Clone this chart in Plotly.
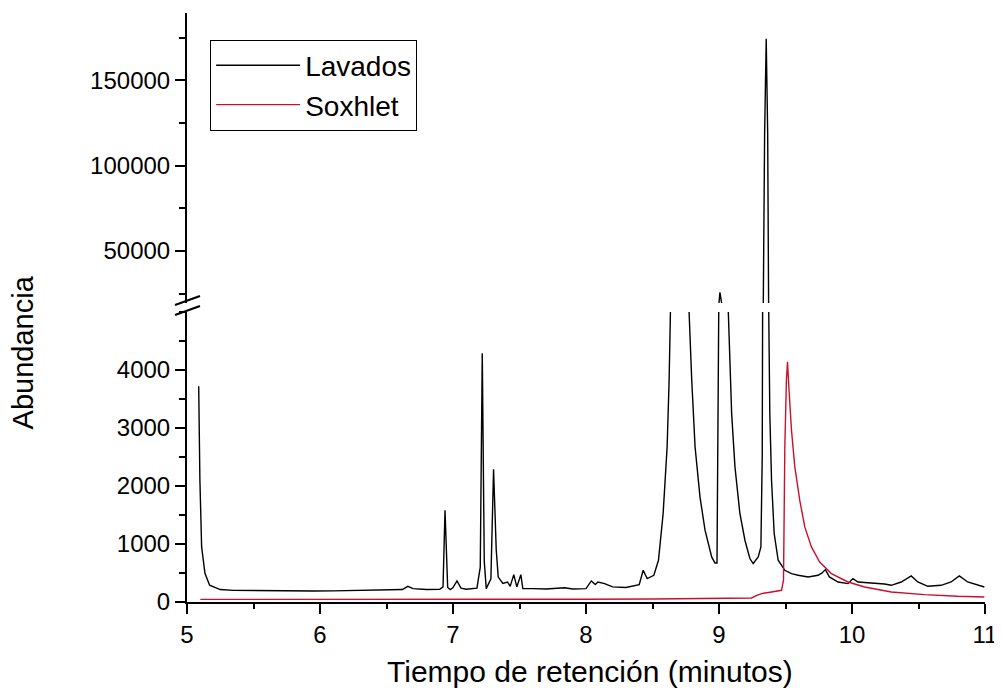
import plotly.graph_objects as go

# ---- data ----
lav_t = [5.088, 5.092, 5.097, 5.11, 5.135, 5.17, 5.25, 5.35, 5.5, 5.65, 5.8, 5.95, 6.1, 6.25,
         6.4, 6.55, 6.62, 6.66, 6.7, 6.8, 6.9, 6.925, 6.94, 6.96, 6.98, 7.0, 7.03, 7.06, 7.1,
         7.18, 7.205, 7.22, 7.235, 7.25, 7.285, 7.305, 7.325, 7.34, 7.375, 7.41, 7.43, 7.457,
         7.48, 7.51, 7.525, 7.6, 7.7, 7.84, 7.9, 8.0, 8.04, 8.07, 8.09, 8.14, 8.2, 8.3, 8.345,
         8.4, 8.43, 8.46, 8.51, 8.545, 8.58, 8.61, 8.625, 8.64, 8.67, 8.71, 8.75, 8.775, 8.795,
         8.82, 8.857, 8.895, 8.945, 8.97, 8.985, 8.998, 9.0, 9.007, 9.02, 9.07, 9.08, 9.095,
         9.12, 9.157, 9.195, 9.232, 9.257, 9.295, 9.315, 9.325, 9.328, 9.333, 9.343, 9.355,
         9.366, 9.371, 9.374, 9.382, 9.395, 9.415, 9.445, 9.495, 9.545, 9.595, 9.67, 9.745,
         9.775, 9.8, 9.83, 9.895, 9.97, 10.007, 10.045, 10.145, 10.245, 10.295, 10.37, 10.445,
         10.495, 10.57, 10.67, 10.745, 10.807, 10.87, 10.945, 10.995]
lav_y = [3720, 2900, 2100, 950, 495, 290, 215, 200, 195, 190, 185, 190, 192, 195,
         200, 205, 215, 270, 230, 215, 220, 260, 1583, 250, 215, 250, 363, 240, 220,
         240, 600, 4287, 700, 230, 400, 2290, 900, 430, 320, 345, 270, 472,
         260, 472, 230, 230, 225, 245, 225, 230, 363, 300, 345, 317, 260, 250, 271,
         300, 547, 403, 461, 720, 1526, 2676, 3827, 5006, 9000, 14000, 9000, 5000, 3827,
         2676, 1813, 1238, 777, 673, 673, 5000, 19400, 25800, 19400, 5000, 4402, 3252,
         2330, 1526, 1065, 749, 663, 777, 949, 2500, 5000, 19400, 118900, 174400,
         118900, 19400, 5000, 3252, 2100, 1180, 720, 547, 490, 461, 432, 461,
         501, 559, 432, 345, 317, 403, 345, 334, 311, 288, 345, 449,
         345, 271, 288, 345, 449, 345, 288, 259]

sox_t = [5.1, 5.5, 6.0, 6.5, 7.0, 7.5, 8.0, 8.5, 8.845, 9.1, 9.245, 9.28, 9.32, 9.395, 9.47,
         9.485, 9.495, 9.507, 9.515, 9.525, 9.545, 9.57, 9.607, 9.645, 9.695, 9.757, 9.845,
         9.97, 10.095, 10.295, 10.545, 10.795, 10.995]
sox_y = [45, 44, 44, 45, 46, 47, 48, 52, 58, 64, 69, 110, 145, 173, 202,
         375, 2676, 3827, 4143, 3711, 2964, 2330, 1756, 1295, 949, 690, 490,
         345, 259, 173, 127, 98, 86]

series_names = ["Lavados", "Soxhlet"]
series_colors = ["#000000", "#c8102e"]
x_ticks = [5, 6, 7, 8, 9, 10, 11]
low_ticks = [0, 1000, 2000, 3000, 4000]
high_ticks = [50000, 100000, 150000]

FONT = "Liberation Sans, Arial, sans-serif"

fig = go.Figure()
for name, color, t, y in [(series_names[0], series_colors[0], lav_t, lav_y),
                          (series_names[1], series_colors[1], sox_t, sox_y)]:
    # lower (unbroken) segment
    fig.add_trace(go.Scatter(x=t, y=y, mode="lines", name=name,
                             line=dict(color=color, width=1.4),
                             xaxis="x", yaxis="y", showlegend=True))
    # upper segment of the broken axis
    fig.add_trace(go.Scatter(x=t, y=y, mode="lines", name=name,
                             line=dict(color=color, width=1.4),
                             xaxis="x2", yaxis="y2", showlegend=False))

axis_common = dict(showline=True, linecolor="black", linewidth=2, ticks="outside",
                   ticklen=10, tickwidth=2, tickcolor="black", showgrid=False,
                   zeroline=False, tickformat="d",
                   tickfont=dict(family=FONT, size=24, color="black"))

fig.update_layout(
    width=994, height=688, autosize=False,
    margin=dict(l=179, r=15, t=5, b=94),
    paper_bgcolor="white", plot_bgcolor="white",
    font=dict(family=FONT, color="black"),
    xaxis=dict(domain=[0, 1], range=[5, 11], anchor="y", tickvals=x_ticks,
               minor=dict(dtick=0.5, tick0=5, ticks="outside", ticklen=5, tickwidth=2,
                          tickcolor="black"),
               **axis_common),
    xaxis2=dict(domain=[0, 1], range=[5, 11], anchor="y2", matches="x", visible=False),
    yaxis=dict(domain=[0, 0.4924], range=[0, 5000], anchor="x", tickvals=low_ticks,
               minor=dict(dtick=500, tick0=0, ticks="outside", ticklen=6, tickwidth=2,
                          tickcolor="black"),
               **axis_common),
    yaxis2=dict(domain=[0.5076, 1], range=[19500, 189500], anchor="x2", tickvals=high_ticks,
                minor=dict(tickvals=[25000, 75000, 125000, 175000], ticks="outside",
                           ticklen=6, tickwidth=2, tickcolor="black"),
                **axis_common),
    legend=dict(x=0.029, y=0.955, xanchor="left", yanchor="top",
                bgcolor="white", bordercolor="black", borderwidth=1,
                font=dict(family=FONT, size=28, color="black"),
                itemwidth=84, tracegroupgap=0),
)

# axis titles
fig.add_annotation(text="Abundancia", xref="paper", yref="paper", x=-0.205, y=0.4245,
                   textangle=-90, showarrow=False, xanchor="center", yanchor="middle",
                   font=dict(family=FONT, size=29, color="black"))
fig.add_annotation(text="Tiempo de retención (minutos)", xref="paper", yref="paper",
                   x=0.505, y=-0.118, showarrow=False, xanchor="center", yanchor="middle",
                   font=dict(family=FONT, size=30, color="black"))

# axis break marks
for y0, y1 in [(0.5042, 0.5195), (0.4873, 0.5025)]:
    fig.add_shape(type="line", xref="paper", yref="paper", x0=-0.015, x1=0.01625,
                  y0=y0, y1=y1, line=dict(color="black", width=2))

fig.write_html("out.html")
